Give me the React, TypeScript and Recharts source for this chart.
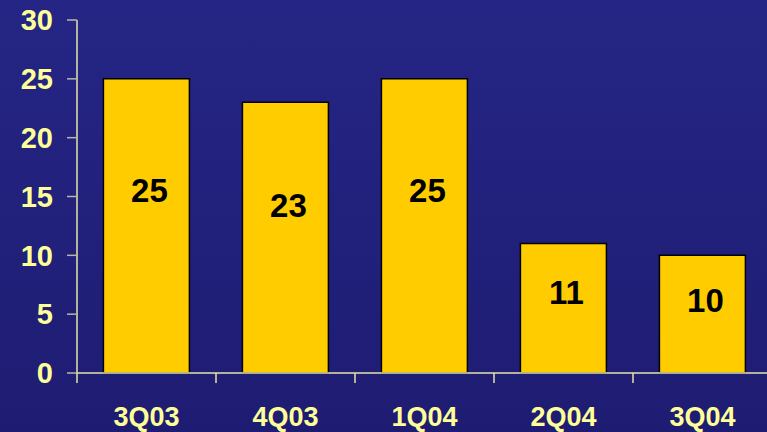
import { Bar, BarChart, LabelList, XAxis, YAxis } from "recharts";

const quarters = ["3Q03", "4Q03", "1Q04", "2Q04", "3Q04"];
const counts = [25, 23, 25, 11, 10];
const yTicks = [0, 5, 10, 15, 20, 25, 30];

const data = quarters.map((name, i) => ({ name, value: counts[i] }));

const AXIS = "#e6e6a8";
const TEXT = "#ffff99";
const FONT = "Liberation Sans, Arial, sans-serif";

const QuarterTick = (props: any) => {
	const { x, y, payload } = props;
	const band = 139;
	return (
		<g>
			<line x1={x - band / 2} x2={x - band / 2} y1={y - 8} y2={y + 2} stroke={AXIS} strokeWidth={1.5} />
			<text x={x} y={y + 45} textAnchor="middle" fill={TEXT} fontSize={27} fontWeight="bold" fontFamily={FONT}>
				{payload.value}
			</text>
		</g>
	);
};

const InsideLabel = (props: any) => {
	const { x, y, width, height, value } = props;
	return (
		<text
			x={x + width / 2 + 3}
			y={y + height * 0.38}
			textAnchor="middle"
			dominantBaseline="central"
			fill="#000"
			fontSize={33}
			fontWeight="bold"
			fontFamily={FONT}
		>
			{value}
		</text>
	);
};

export default function App() {
	return (
		<div
			style={{
				position: "fixed",
				top: 0,
				left: 0,
				width: 767,
				height: 432,
				overflow: "hidden",
				background: "linear-gradient(180deg, #252585 0%, #1e1c72 100%)",
			}}
		>
			<BarChart
				width={772}
				height={432}
				data={data}
				margin={{ top: 20, right: 0, bottom: 0, left: 0 }}
				barCategoryGap="19%"
			>
				<YAxis
					width={77}
					domain={[0, 30]}
					ticks={yTicks}
					interval={0}
					axisLine={{ stroke: AXIS, strokeWidth: 1.5 }}
					tickLine={{ stroke: "#b8b8a0", strokeWidth: 1.5 }}
					tickSize={10}
					tickMargin={14}
					tick={{ fill: TEXT, fontSize: 29, fontWeight: "bold", fontFamily: FONT }}
				/>
				<XAxis
					dataKey="name"
					height={59}
					axisLine={{ stroke: AXIS, strokeWidth: 1.5 }}
					tickLine={false}
					interval={0}
					tick={<QuarterTick />}
				/>
				<Bar dataKey="value" fill="#ffcc00" stroke="#000" strokeWidth={1.5} isAnimationActive={false}>
					<LabelList dataKey="value" content={<InsideLabel />} />
				</Bar>
			</BarChart>
		</div>
	);
}
